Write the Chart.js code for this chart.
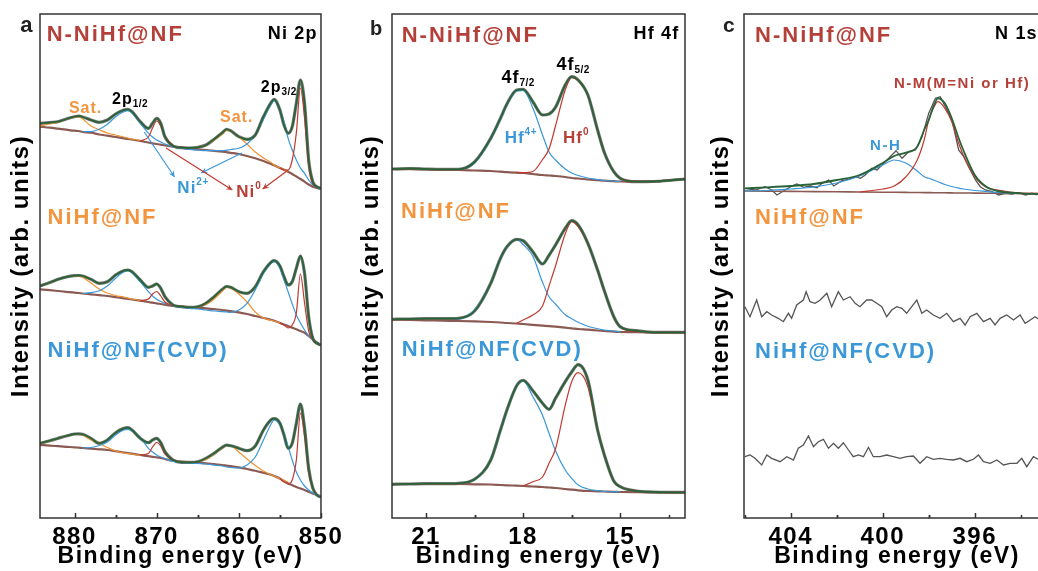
<!DOCTYPE html>
<html>
<head>
<meta charset="utf-8">
<script src="https://cdn.jsdelivr.net/npm/chart.js@4.4.1/dist/chart.umd.min.js"></script>
<style>
html, body { margin: 0; padding: 0; background: #fff; overflow: hidden; width: 1038px; height: 571px; }
canvas { position: absolute; top: 0; }
#ca { left: 0; }
#cb { left: 350px; }
#cc { left: 700px; }
</style>
</head>
<body>
<canvas id="ca" width="346" height="571"></canvas>
<canvas id="cb" width="345" height="571"></canvas>
<canvas id="cc" width="360" height="571"></canvas>
<script>
// ---- Ni 2p (panel a) ----
var niE = [884.2, 883, 882, 881, 880, 879.5, 879, 878, 877, 876,
  875, 874, 873.5, 873, 872, 871, 870.5, 870, 869.5, 869,
  868, 867, 866, 865, 864, 863, 862, 861.5, 861, 860,
  859, 858, 857, 856, 855.7, 855, 854.5, 854, 853.5, 853,
  852.5, 852, 851.5, 851, 850.5, 850];

// N-NiHf@NF
var niEnvN = [394.7, 395.5, 396.3, 399, 401.3, 402, 401, 398, 395.7, 398,
  404, 408, 408.7, 406.3, 396.3, 389.7, 394.7, 399.7, 394.7, 381.3,
  372, 370.3, 370, 370.7, 373, 378.7, 385.3, 388.7, 387.3, 381.3,
  378.7, 383, 401.3, 416.3, 418.7, 408, 393, 384.7, 391.3, 414.7,
  438, 414.7, 358, 336.3, 331.3, 329.7];
var niBgN = [391.3, 390.3, 389.3, 388.3, 387.3, 387, 386, 385.3, 383.5, 382.3,
  381, 379.7, 379, 378.5, 377, 375.5, 374.7, 374, 373.3, 372.7,
  371.3, 370.3, 369.3, 368.7, 368, 367.2, 366.3, 365.8, 365.2, 364,
  362, 359.7, 357, 353.7, 352.7, 350, 348.3, 346.3, 344, 341.5,
  339, 336.3, 333.5, 331.3, 330, 329];
var niBlueN = [null, null, null, null, null, null, 386.5, 386.3, 388.7, 393.7,
  401.3, 406.3, 407.3, 405.3, 394.7, 384.7, 381, 378, 376, 374,
  371.3, 370, 368.7, 368, 367.3, 367.3, 367.3, 367.8, 368.5, 369.7,
  374, 383, 398.7, 414.7, 417.3, 408, 396.3, 379.7, 368, 358,
  350, 344.7, 338, 333, 330.5, 329.3];
var niOrangeN = [392, 394, 396, 399, 400.7, 401.3, 399, 392, 388.3, 385,
  383, 381, 380, 379, 377.5, null, null, null, null, null,
  null, null, 369.5, 371, 373, 378, 384, 387.5, 387, 381,
  374, 366, 360, 355, 353, 350, 348.5, 346.5, null, null,
  null, null, null, null, null, null];
var niRedN = [null, null, null, null, null, null, null, null, null, null,
  null, null, null, null, 377, 381, 390, 397, 392, 382,
  372, null, null, null, null, null, null, null, null, null,
  null, null, null, null, null, 350, 348, 348, 358, 385,
  430, 400, 352, 334, 331, null];

// NiHf@NF
var niEnvP = [232, 235.5, 238.7, 241, 242.3, 242.5, 242, 238.7, 234.7, 236.3,
  243, 247.3, 248, 246.3, 238, 230.7, 232, 234, 229.7, 221.3,
  213, 211.3, 210.7, 211.3, 214.7, 221.3, 228.7, 231.5, 230.7, 226.3,
  224.7, 231.3, 246.3, 256.3, 257.3, 252, 241.3, 233, 236.3, 249.7,
  262, 244.7, 201.3, 179.7, 174.7, 173];
var niBgP = [228.7, 227.8, 227, 226.2, 225.3, 225, 224.5, 223.7, 222.8, 222,
  220.8, 219.7, 219.1, 218.5, 217.3, 216, 215.3, 214.7, 214, 213.3,
  212, 211.3, 210.7, 210.2, 209.7, 208.8, 208, 207.4, 206.8, 205.7,
  204, 202, 200, 198, 197.2, 195, 193.5, 192, 190.3, 188.7,
  187, 185.3, 182, 178.7, 175.5, 173];
var niBlueP = [null, null, null, null, null, null, 224.5, 225.3, 227.3, 232,
  239.7, 246.3, 247.3, 245.3, 236.3, 226.3, 222, 218.7, 216.5, 214.7,
  212, 210.8, 209.7, 209, 208, 207, 206.3, 206, 205.7, 208,
  214.7, 228, 244.7, 255.3, 256.3, 249.7, 238, 226.3, 214, 203,
  195, 188, 182, 178, 175, 173];
var niOrangeP = [232, 235.5, 238.5, 241, 242, 242, 240.5, 235, 229, 225,
  222.5, 221, 220, 219, 217.5, null, null, null, null, null,
  null, null, 210.5, 211.5, 213.5, 219, 227, 230.5, 230, 224,
  216, 206, 200, 197.5, 197, 195, null, null, null, null,
  null, null, null, null, null, null];
var niRedP = [null, null, null, null, null, null, null, null, null, null,
  null, null, null, null, 217.3, 219, 224, 226.5, 222, 216,
  212, null, null, null, null, null, null, null, null, null,
  null, null, null, null, null, 195, 193, 190, 193, 205,
  244, 215, 187, 178, 174, null];

// NiHf@NF(CVD)
var niEnvC = [74.7, 77.3, 79.7, 82, 84, 84.2, 83.7, 79.7, 74.7, 78,
  85.3, 89.7, 90.3, 88, 79.7, 75.3, 78, 79.7, 75.3, 66.3,
  58, 55.7, 55.7, 56.3, 59.7, 64.7, 70.7, 72.8, 72.3, 69.7,
  67.3, 72, 88, 98.7, 99.3, 94.7, 83, 69.7, 74.7, 94.7,
  114, 90, 49.7, 30, 23, 21];
var niBgC = [73, 72.4, 71.8, 71.2, 70.7, 70.3, 70, 69.3, 68.7, 68,
  66.8, 65.5, 64.9, 64.3, 63, 61.8, 61.2, 60.7, 60, 59,
  57.3, 56.5, 55.7, 55.2, 54.7, 53.8, 53, 52.4, 51.8, 50.7,
  49, 47.3, 45.2, 43, 42, 39.5, 37, 34.5, 32.7, 31,
  29.5, 28, 26.2, 24.5, 23, 21.5];
var niBlueC = [null, null, null, null, null, null, 70, 70.5, 72.5, 76,
  83, 88, 88.7, 87, 80.5, 69.7, 66, 63, 61, 59.5,
  56.5, 55.5, 55, 54.5, 54, 53, 52, 51, 50.5, 50,
  53, 61, 78, 95, 98, 93, 84, 71.5, 58, 46,
  38, 32, 28, 25, 23, 21.5];
var niOrangeC = [74.7, 77, 79.5, 82, 83.7, 83.7, 83, 78, 74.5, 70.5,
  67, 65, 64.5, 64, 62.5, null, null, null, null, null,
  null, null, 55.7, 56.5, 58.5, 64, 70, 72.7, 72.5, 66,
  59, 52.5, 47, 43, 42, 39.5, 37.5, 36, null, null,
  null, null, null, null, null, null];
var niRedC = [null, null, null, null, null, null, null, null, null, null,
  null, null, null, null, 63, 64.5, 71, 75.5, 72, 64,
  58, null, null, null, null, null, null, null, null, null,
  null, null, null, null, null, 39.5, 36, 34, 38, 58,
  105, 82, 45, 30, 23, null];

// ---- Hf 4f (panel b) ----
var hfE = [22.05, 21.5, 21, 20.5, 20, 19.5, 19, 18.7, 18.5, 18.2,
  18, 17.7, 17.4, 17.2, 17, 16.7, 16.5, 16.3, 16, 15.7,
  15.5, 15.2, 15, 14.5, 14, 13.5, 13];

var hfEnvN = [349, 349.5, 349, 348.7, 348.7, 356, 379.7, 399.7, 414, 428,
  428.7, 416.3, 403, 404, 410.7, 433, 441.3, 438, 423, 388,
  366.3, 346.3, 339.7, 336.3, 336.5, 337.5, 339];
var hfBgN = [349, 348.8, 348.5, 348.2, 348, 347.5, 347, 346.3, 345.8, 345.3,
  345, 344, 343, 342.5, 342, 341, 340, 339.5, 338.5, 337.8,
  337.3, 336.8, 336.5, 336.3, 336.5, 337.5, 339];
var hfBlueN = [null, null, null, null, 348.5, 355, 379, 399, 413, 427,
  427.5, 410, 383, 366, 358, 349, 345, 342.5, 340, 338.5,
  337.5, 337, 336.5, null, null, null, null];
var hfRedN = [null, null, null, null, null, null, null, null, null, 345.3,
  345.3, 346.5, 358.5, 369, 392, 428, 440.5, 437.5, 423, 388,
  366, 346, 339.7, 336.3, null, null, null];

var hfEnvP = [198.7, 199, 199.3, 199.3, 199.7, 207, 234.7, 259.7, 271.3, 278.7,
  277.3, 266.3, 254, 262.7, 273, 289.7, 297.3, 293, 274.7, 248,
  228, 201.3, 191.3, 187.3, 185.7, 185.7, 185.7];
var hfBgP = [198.5, 198, 197.7, 197.3, 197, 196.6, 196, 195.5, 195, 194.5,
  194, 193.2, 192.4, 191.9, 191.3, 190.3, 189.7, 189, 188.3, 187.5,
  187, 186.3, 186, 185.8, 185.7, 185.7, 185.7];
var hfBlueP = [null, null, null, null, 198, 208, 234.7, 259.7, 271.3, 278.7,
  273.5, 261.7, 235.7, 221.3, 214, 203.3, 199.3, 195.7, 191.7, 189.3,
  188, 187, 186, null, null, null, null];
var hfRedP = [null, null, null, null, null, null, null, null, null, 194.7,
  198, 203, 212, 232, 252, 284, 296.3, 291.3, 274.3, 248,
  228, 201.3, 191.3, 186, null, null, null];

var hfEnvC = [33.7, 34, 34.3, 34.3, 34.7, 38.7, 58, 88, 108, 132.3,
  137.7, 127.3, 114.7, 108.7, 119.7, 136.3, 146, 153.3, 138, 88,
  64, 37, 31.3, 27, 26, 25.7, 25.7];
var hfBgC = [34, 34, 34, 34, 34, 33.7, 33.5, 33, 32.7, 32.3,
  32, 31.5, 31, 30.5, 30, 29, 28.3, 27.7, 27, 26.7,
  26.5, 26.2, 26, 25.8, 25.7, 25.7, 25.7];
var hfBlueC = [null, null, null, null, 34.5, 38.7, 58, 88, 108, 132,
  137, 121.3, 102.7, 84.7, 67.3, 48, 39.7, 33, 29, 27.3,
  26.5, 26.2, 26, null, null, null, null];
var hfRedC = [null, null, null, null, null, null, null, null, null, null,
  32, 36.3, 41, 54.7, 69, 112.7, 136.3, 145.3, 131.3, 88,
  64, 37, 31.3, 27, null, null, null];

// ---- N 1s (panel c) ----
var nE = [406, 405, 404, 403, 402, 401, 400, 399.5, 399, 398.5,
  398.2, 398, 397.8, 397.6, 397.3, 397, 396.7, 396.5, 396, 395.5,
  395, 394, 393];
var nEnvN = [329.7, 330.7, 332, 334, 338, 343, 355, 362, 365.3, 371.3,
  388, 398, 411.3, 419.7, 414.7, 399.7, 379.7, 368, 343, 331.3,
  327, 324.7, 324];
var nBgN = [327, 326.8, 326.6, 326.4, 326.2, 326, 325.8, 325.7, 325.6, 325.5,
  325.4, 325.4, 325.3, 325.3, 325.2, 325.1, 325, 325, 324.9, 324.8,
  324.7, 324.5, 324.3];
var nBlueN = [327.2, 327.5, 329, 331, 335, 342, 353, 358, 355, 347,
  341.3, 339.7, 338, 336.3, 333.5, 331.5, 329.8, 329, 327.5, 326.5,
  325.5, 325, null];
var nRedN = [null, null, null, null, null, 326, 329, 332, 341, 358,
  378, 398, 409.7, 416.3, 409.7, 396.3, 374.7, 363, 341.3, 330.7,
  328, 325, 324.5];

var nRawNE = [405.98, 405.54, 405.11, 404.82, 404.6, 404.24, 403.95, 403.73, 403.44, 403.15,
  402.86, 402.64, 402.35, 402.13, 401.77, 401.48, 401.19, 400.97, 400.76, 400.47,
  400.25, 400.03, 399.74, 399.42, 399.16, 398.87, 398.58, 398.29, 398.0, 397.71,
  397.5, 397.28, 396.99, 396.7, 396.48, 396.27, 395.97, 395.76, 395.54, 395.25,
  394.96, 394.67, 394.38, 394.09, 393.8, 393.51, 393.29];
var nRawN = [329.7, 328, 331.3, 328, 323, 328, 332, 334, 330.7, 332,
  330.3, 334.7, 338, 332, 337.3, 338.7, 341.3, 339.7, 343, 349.7,
  348, 353, 359.7, 367.3, 359.7, 366.3, 368, 381.3, 404.7, 419.7,
  421.3, 411.3, 398, 368, 361.3, 351.3, 338, 331.3, 328, 326.3,
  323, 324.7, 324, 325.3, 323, 324.7, 323];

var nRawPE = [405.99, 405.77, 405.48, 405.26, 405.04, 404.83, 404.54, 404.32, 404.1, 403.96,
  403.74, 403.45, 403.33, 403.16, 402.94, 402.72, 402.43, 402.22, 401.93, 401.71,
  401.42, 401.2, 400.99, 400.7, 400.48, 400.26, 400.04, 399.83, 399.61, 399.39,
  399.17, 398.96, 398.74, 398.52, 398.3, 398.09, 397.8, 397.51, 397.22, 396.93,
  396.64, 396.42, 396.2, 395.91, 395.62, 395.33, 395.12, 394.9, 394.61, 394.32,
  394.03, 393.81, 393.59, 393.38, 393.1];
var nRawP = [211.3, 201.3, 218, 201.3, 206.3, 203, 199.7, 196.3, 204.7, 199.7,
  213, 218, 226.3, 216.3, 214.7, 218, 224.7, 211.3, 226.3, 218,
  221.3, 214.7, 211.3, 218, 218, 214.7, 211.3, 201.3, 208, 211.3,
  209.7, 204.7, 211.3, 218, 204.7, 208, 203, 199.7, 204.7, 196.3,
  199.7, 193, 201.3, 204.7, 196.3, 199.7, 193, 199.7, 203, 198,
  203, 194.7, 198, 201.3, 197];

var nRawCE = [405.99, 405.77, 405.55, 405.26, 405.04, 404.83, 404.46, 404.17, 403.88, 403.67,
  403.45, 403.23, 403.01, 402.8, 402.58, 402.36, 402.14, 401.93, 401.71, 401.49,
  401.28, 401.06, 400.84, 400.62, 400.41, 400.12, 399.83, 399.54, 399.25, 398.96,
  398.67, 398.38, 398.09, 397.8, 397.51, 397.22, 396.93, 396.64, 396.35, 396.06,
  395.84, 395.62, 395.33, 395.04, 394.75, 394.46, 394.17, 393.96, 393.74, 393.45,
  393.25];
var nRawC = [61.3, 63, 59.7, 53, 63, 59.7, 56.3, 61.3, 58, 69.7,
  73, 82, 71.3, 76.3, 78.7, 69.7, 74.7, 69.7, 75.3, 68,
  61.3, 63, 61.3, 70.7, 61.3, 61.3, 63, 61.3, 59.7, 61.3,
  62, 54.7, 61.3, 58.7, 59.7, 58.7, 58, 59.7, 56.3, 58.7,
  63, 56.3, 54.7, 58, 53, 54.7, 54.7, 59.7, 51.3, 61.3,
  58.7];

var FONT = "'Liberation Sans', Arial, sans-serif";
var RED_T = '#b5403a', ORANGE_T = '#f3953f', BLUE_T = '#3b98d8';
var GREEN_L = '#2a6338', GRAY_L = '#777777', BROWN_L = '#8b5a52';
var BLUE_L = '#3a97da', RED_L = '#bf3a30', ORANGE_L = '#f39232';

Chart.defaults.font.family = FONT;
Chart.defaults.font.weight = 'bold';
Chart.defaults.color = '#000';

function pts(xs, ys) {
  return xs.map(function (x, i) { return { x: x, y: ys[i] }; });
}

function line(data, color, width) {
  return {
    data: data, borderColor: color, borderWidth: width, showLine: true,
    pointRadius: 0, pointHoverRadius: 0, fill: false,
    cubicInterpolationMode: 'monotone'
  };
}

// fitted spectrum: envelope on top, then components, background, raw underneath
function fitted(xs, groups) {
  var top = [], under = [];
  groups.forEach(function (g) {
    top.push(line(pts(xs, g[0]), GREEN_L, 1.8));
    top.push(line(pts(xs, g[1]), RED_L, 1.2));
    top.push(line(pts(xs, g[2]), BLUE_L, 1.2));
    if (g[3]) top.push(line(pts(xs, g[3]), ORANGE_L, 1.2));
    top.push(line(pts(xs, g[4]), BROWN_L, 2.2));
    under.push(line(pts(xs, g[0]), GRAY_L, 3.2));
  });
  return top.concat(under);
}

function arrow(ctx, x1, y1, x2, y2, color) {
  var a = Math.atan2(y2 - y1, x2 - x1), h = 7;
  ctx.strokeStyle = color; ctx.fillStyle = color; ctx.lineWidth = 1.2;
  ctx.beginPath(); ctx.moveTo(x1, y1); ctx.lineTo(x2, y2); ctx.stroke();
  ctx.beginPath();
  ctx.moveTo(x2, y2);
  ctx.lineTo(x2 - h * Math.cos(a - 0.45), y2 - h * Math.sin(a - 0.45));
  ctx.lineTo(x2 - h * 0.55 * Math.cos(a), y2 - h * 0.55 * Math.sin(a));
  ctx.lineTo(x2 - h * Math.cos(a + 0.45), y2 - h * Math.sin(a + 0.45));
  ctx.closePath(); ctx.fill();
}

function framePlugin(notes, arrows) {
  return {
    id: 'frame',
    beforeDraw: function (chart) { chart.ctx.letterSpacing = '1.5px'; },
    afterDraw: function (chart) {
      var ctx = chart.ctx, a = chart.chartArea, xs = chart.scales.x, ys = chart.scales.y;
      ctx.save();
      ctx.letterSpacing = '0px';
      ctx.strokeStyle = '#333'; ctx.lineWidth = 1.5;
      ctx.strokeRect(a.left, a.top, a.right - a.left, a.bottom - a.top);
      var step = xs.options.ticks.stepSize;
      function mark(v, len) {
        if (v < xs.min || v > xs.max) return;
        var p = Math.round(xs.getPixelForValue(v)) + 0.5;
        ctx.beginPath(); ctx.moveTo(p, a.bottom); ctx.lineTo(p, a.bottom - len); ctx.stroke();
      }
      xs.ticks.forEach(function (t) {
        mark(t.value, 5); mark(t.value + step / 2, 3); mark(t.value - step / 2, 3);
      });
      (arrows || []).forEach(function (r) {
        arrow(ctx, xs.getPixelForValue(r.from[0]), ys.getPixelForValue(r.from[1]),
          xs.getPixelForValue(r.to[0]), ys.getPixelForValue(r.to[1]), r.color);
      });
      notes.forEach(function (n) {
        var px = xs.getPixelForValue(n.x), py = ys.getPixelForValue(n.y);
        ctx.font = 'bold ' + n.size + 'px ' + FONT;
        ctx.letterSpacing = (n.ls || 0) + 'px';
        ctx.fillStyle = n.color || '#000';
        ctx.textAlign = n.align || 'left';
        ctx.textBaseline = 'alphabetic';
        ctx.fillText(n.text, px, py);
        if (n.sub || n.sup) {
          var w = ctx.measureText(n.text).width;
          ctx.font = 'bold 10px ' + FONT;
          ctx.letterSpacing = '0.5px';
          ctx.textAlign = 'left';
          ctx.fillText(n.sub || n.sup, px + w, py + (n.sub ? 3 : -8));
        }
      });
      ctx.restore();
    }
  };
}

function makeChart(id, xMin, xMax, step, yWidth, datasets, notes, arrows) {
  return new Chart(document.getElementById(id), {
    type: 'scatter',
    data: { datasets: datasets },
    options: {
      responsive: false,
      animation: false,
      devicePixelRatio: 1,
      layout: { padding: { left: 0, right: 10, top: 14, bottom: 0 } },
      plugins: { legend: { display: false }, tooltip: { enabled: false } },
      scales: {
        x: {
          type: 'linear', reverse: true, min: xMin, max: xMax,
          grid: { display: false, drawTicks: false },
          border: { display: false },
          ticks: { stepSize: step, includeBounds: false, padding: 5, maxRotation: 0, color: '#000', font: { size: 24, weight: 'bold' } },
          title: { display: true, text: 'Binding energy (eV)', color: '#000', font: { size: 23, weight: 'bold' }, padding: { top: 0, bottom: 1 } },
          afterFit: function (s) { s.height = 53; }
        },
        y: {
          min: 0, max: 504,
          grid: { display: false, drawTicks: false },
          border: { display: false },
          ticks: { display: false },
          title: { display: true, text: 'Intensity (arb. units)', color: '#000', font: { size: 24, weight: 'bold' }, padding: { top: 7, bottom: 0 } },
          afterFit: function (s) { s.width = yWidth; }
        }
      }
    },
    plugins: [framePlugin(notes, arrows)]
  });
}

// panel a
makeChart('ca', 850, 884.2, 10, 40,
  fitted(niE, [
    [niEnvN, niRedN, niBlueN, niOrangeN, niBgN],
    [niEnvP, niRedP, niBlueP, niOrangeP, niBgP],
    [niEnvC, niRedC, niBlueC, niOrangeC, niBgC]
  ]),
  [
    { text: 'a', x: 886.6, y: 486, size: 22, color: '#222' },
    { text: 'N-NiHf@NF', x: 883.39, y: 477, size: 22, ls: 2, color: RED_T },
    { text: 'Ni 2p', x: 850.4, y: 479.5, size: 18, ls: 1.2, align: 'right' },
    { text: 'NiHf@NF', x: 883.28, y: 294, size: 22, ls: 2, color: ORANGE_T },
    { text: 'NiHf@NF(CVD)', x: 883.28, y: 161, size: 22, ls: 2, color: BLUE_T },
    { text: 'Sat.', x: 880.68, y: 405, size: 16, ls: 1, color: ORANGE_T },
    { text: '2p', sub: '1/2', x: 875.43, y: 414.5, size: 16, ls: 1 },
    { text: 'Sat.', x: 862.29, y: 396.5, size: 16, ls: 1, color: ORANGE_T },
    { text: '2p', sub: '3/2', x: 857.33, y: 426, size: 16, ls: 1 },
    { text: 'Ni', sup: '2+', x: 867.48, y: 325, size: 17, ls: 1, color: BLUE_T },
    { text: 'Ni', sup: '0', x: 860.32, y: 321.5, size: 17, ls: 1, color: RED_T }
  ],
  [
    { from: [871.51, 386], to: [867.82, 341], color: BLUE_L },
    { from: [859.63, 365], to: [864.59, 345], color: BLUE_L },
    { from: [868.86, 370], to: [860.79, 328], color: RED_L },
    { from: [853.98, 348], to: [857.1, 329], color: RED_L }
  ]);

// panel b
makeChart('cb', 13, 22.05, 3, 42,
  fitted(hfE, [
    [hfEnvN, hfRedN, hfBlueN, null, hfBgN],
    [hfEnvP, hfRedP, hfBlueP, null, hfBgP],
    [hfEnvC, hfRedC, hfBlueC, null, hfBgC]
  ]),
  [
    { text: 'b', x: 22.73, y: 483, size: 20, color: '#222' },
    { text: 'N-NiHf@NF', x: 21.75, y: 476.5, size: 22, ls: 2, color: RED_T },
    { text: 'Hf 4f', x: 13.17, y: 479.5, size: 18, ls: 1.2, align: 'right' },
    { text: 'NiHf@NF', x: 21.77, y: 300.5, size: 22, ls: 2, color: ORANGE_T },
    { text: 'NiHf@NF(CVD)', x: 21.75, y: 162, size: 22, ls: 2, color: BLUE_T },
    { text: '4f', sub: '7/2', x: 18.67, y: 435.3, size: 18, ls: 1 },
    { text: '4f', sub: '5/2', x: 16.97, y: 448, size: 18, ls: 1 },
    { text: 'Hf', sup: '4+', x: 18.57, y: 375.3, size: 17, ls: 1, color: BLUE_T },
    { text: 'Hf', sup: '0', x: 16.77, y: 375, size: 17, ls: 1, color: RED_T }
  ], []);

// panel c
var cSets = [
  line(pts(nE, nEnvN), GREEN_L, 1.8),
  line(pts(nE, nRedN), RED_L, 1.2),
  line(pts(nE, nBlueN), BLUE_L, 1.2),
  line(pts(nE, nBgN), BROWN_L, 1.6),
  line(pts(nRawNE, nRawN), '#555', 1.3),
  line(pts(nRawPE, nRawP), '#555', 1.3),
  line(pts(nRawCE, nRawC), '#555', 1.3)
];
cSets[4].cubicInterpolationMode = 'default'; cSets[4].tension = 0;
cSets[5].cubicInterpolationMode = 'default'; cSets[5].tension = 0;
cSets[6].cubicInterpolationMode = 'default'; cSets[6].tension = 0;
makeChart('cc', 392.73, 406.03, 4, 44, cSets,
  [
    { text: 'c', x: 406.94, y: 486.3, size: 21, color: '#222' },
    { text: 'N-NiHf@NF', x: 405.55, y: 476.5, size: 22, ls: 2, color: RED_T },
    { text: 'N 1s', x: 395.12, y: 479.5, size: 18, ls: 1.2 },
    { text: 'NiHf@NF', x: 405.55, y: 294, size: 22, ls: 2, color: ORANGE_T },
    { text: 'NiHf@NF(CVD)', x: 405.55, y: 160, size: 22, ls: 2, color: BLUE_T },
    { text: 'N-M(M=Ni or Hf)', x: 399.51, y: 430, size: 15, ls: 1.5, color: RED_T },
    { text: 'N-H', x: 400.55, y: 368, size: 15, ls: 1.5, color: BLUE_T }
  ], []);
</script>
</body>
</html>
